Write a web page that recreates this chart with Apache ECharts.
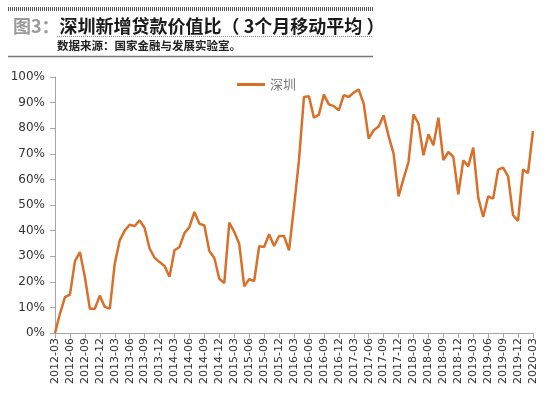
<!DOCTYPE html>
<html>
<head>
<meta charset="utf-8">
<script src="https://cdn.jsdelivr.net/npm/echarts@6/dist/echarts.min.js"></script>
<style>
  html, body { margin: 0; padding: 0; background: #fff; }
  #chart { width: 550px; height: 397px; }
</style>
</head>
<body>
<div id="chart"></div>
<script>
// monthly, 2012-03 .. 2020-03
var startYear = 2012, startMonth = 3, monthCount = 97;
var months = [];
for (var k = 0; k < monthCount; k++) {
    var m = startMonth - 1 + k;
    var y = startYear + Math.floor(m / 12);
    var mm = (m % 12) + 1;
    months.push(y + "-" + (mm < 10 ? "0" + mm : mm));
}

var shenzhen = [
    0, 7.6, 14, 15, 28, 31.6, 21.9, 9.5, 9.5, 14.6, 10.2, 9.5,
    27, 36.2, 40, 42.3, 41.8, 44, 41, 33, 29.4, 27.7, 26.2, 22,
    32.3, 33.6, 39, 41.4, 47.3, 42.7, 42, 32, 29.3, 21.2, 19.5, 43.1,
    39.5, 34.9, 18.2, 21, 20.3, 33.9, 33.6, 38.6, 34, 37.9, 37.9, 32.3,
    49.2, 67.5, 92.2, 92.5, 84.1, 85.3, 93.1, 89.3, 88.6, 87, 92.9, 92.2,
    93.9, 95.1, 89.6, 75.9, 79.2, 80.7, 85, 76.9, 70.1, 53.4, 60.3, 66.8,
    85.4, 81.8, 69.4, 77.6, 73.3, 84.1, 67.5, 70.7, 68.8, 54.2, 67.5, 65.1,
    72.4, 52.9, 45.3, 53.4, 52.5, 63.8, 64.6, 61.2, 46, 43.8, 63.9, 62.5,
    78.9
];

var lineColor = "#d8702a";
var axisColor = "#a6a6a6";

var chart = echarts.init(document.getElementById("chart"));

chart.setOption({
    animation: false,
    title: {
        left: 8,
        top: 12,
        text: "{a|图3：}{b|深圳新增贷款价值比（ 3个月移动平均 ）}",
        textStyle: {
            rich: {
                a: { fontSize: 18, fontWeight: "bold", color: "#9a9a9a", fontFamily: "Noto Sans CJK SC" },
                b: { fontSize: 18, fontWeight: "bold", color: "#1a1a1a", fontFamily: "Noto Sans CJK SC" }
            }
        }
    },
    graphic: [
        {
            type: "line",
            shape: { x1: 8, y1: 9, x2: 373, y2: 9 },
            style: { stroke: "#555", lineWidth: 4, lineDash: [1, 1] }
        },
        {
            type: "line",
            shape: { x1: 57, y1: 36.5, x2: 373, y2: 36.5 },
            style: { stroke: "#888", lineWidth: 1, lineDash: [1, 1] }
        },
        {
            type: "text",
            left: 57,
            top: 40,
            style: {
                text: "数据来源：国家金融与发展实验室。",
                font: "bold 11.5px 'Noto Sans CJK SC'",
                fill: "#222"
            }
        },
        {
            type: "line",
            shape: { x1: 8, y1: 56.5, x2: 373, y2: 56.5 },
            style: { stroke: "#777", lineWidth: 1.5 }
        }
    ],
    legend: {
        left: 232,
        top: 73,
        itemWidth: 28,
        itemHeight: 3,
        itemGap: 4,
        icon: "rect",
        textStyle: { fontSize: 13, color: "#777", fontFamily: "Noto Sans CJK SC" },
        data: ["深圳"]
    },
    grid: { left: 55, right: 17, top: 77, bottom: 64 },
    xAxis: {
        type: "category",
        data: months,
        boundaryGap: false,
        axisLine: { lineStyle: { color: axisColor } },
        axisTick: { interval: 2, length: 5, lineStyle: { color: axisColor } },
        axisLabel: {
            interval: 2,
            rotate: 90,
            fontSize: 11,
            color: "#333",
            margin: 5,
            fontFamily: "DejaVu Sans"
        }
    },
    yAxis: {
        type: "value",
        min: 0,
        max: 100,
        interval: 10,
        splitLine: { show: false },
        axisLine: { show: true, lineStyle: { color: axisColor } },
        axisTick: { show: true, length: 5, lineStyle: { color: axisColor } },
        axisLabel: {
            formatter: "{value}%",
            fontSize: 12,
            color: "#333",
            margin: 10,
            fontFamily: "DejaVu Sans"
        }
    },
    series: [{
        name: "深圳",
        type: "line",
        data: shenzhen,
        symbol: "none",
        lineStyle: { color: lineColor, width: 2.5 },
        itemStyle: { color: lineColor }
    }]
});
</script>
</body>
</html>
